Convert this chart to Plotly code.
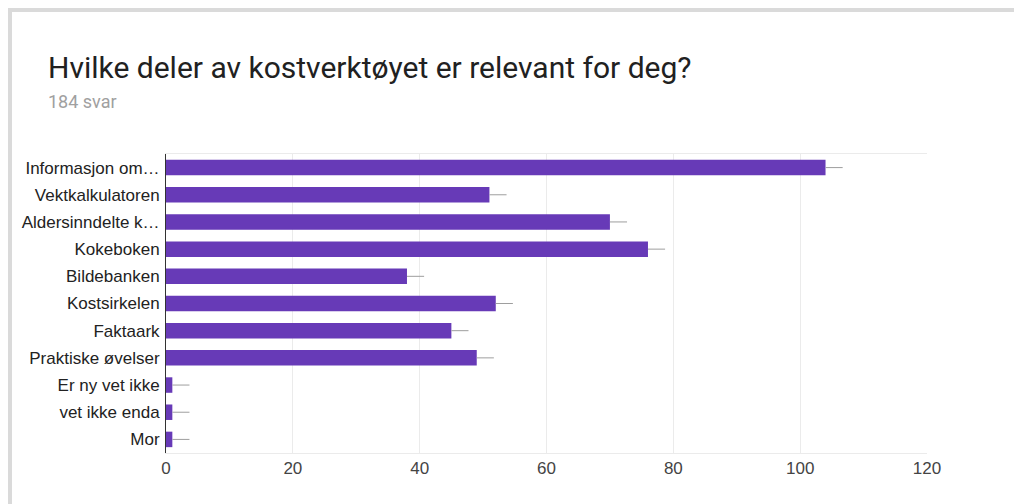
import plotly.graph_objects as go

categories = ["Informasjon om…", "Vektkalkulatoren", "Aldersinndelte k…", "Kokeboken",
              "Bildebanken", "Kostsirkelen", "Faktaark", "Praktiske øvelser",
              "Er ny vet ikke", "vet ikke enda", "Mor"]
values = [104, 51, 70, 76, 38, 52, 45, 49, 1, 1, 1]
err_plus = [2.7] * len(values)
err_minus = [0] * len(values)
x_ticks = [0, 20, 40, 60, 80, 100, 120]

title_text = "Hvilke deler av kostverktøyet er relevant for deg?"
subtitle_text = "184 svar"

OFF = 8  # page body margin
W, H = 1022 - OFF, 504 - OFF
L, R, T, B = 166 - OFF, 95, 154 - OFF, 51
pw, ph = W - L - R, H - T - B

def px(x):
    return (x - OFF - L) / pw

def py(y):
    return (H - B - (y - OFF)) / ph

fig = go.Figure(go.Bar(
    x=values, y=categories, orientation="h",
    marker=dict(color="#673ab7", line=dict(width=0)),
    error_x=dict(type="data", symmetric=False, array=err_plus, arrayminus=err_minus,
                 color="#9e9e9e", thickness=1, width=0),
    hoverinfo="x+y",
))

fig.update_layout(
    width=W, height=H,
    margin=dict(l=L, r=R, t=T, b=B),
    paper_bgcolor="white", plot_bgcolor="white",
    bargap=0.43,
    showlegend=False,
    font=dict(family="Liberation Sans, Arial, sans-serif", size=17, color="#222222"),
    xaxis=dict(range=[0, 120], tickvals=x_ticks, showgrid=True, gridcolor="#ebebeb",
               gridwidth=1, zeroline=False, showline=True, mirror=True, linecolor="#ebebeb",
               ticks="", tickfont=dict(size=17, color="#444444")),
    yaxis=dict(autorange="reversed", showgrid=False, zeroline=False, showline=True,
               linecolor="#333333", linewidth=1, ticks="", ticklabelstandoff=2,
               tickfont=dict(size=17, color="#222222")),
    shapes=[
        dict(type="rect", xref="paper", yref="paper", x0=px(6), x1=px(12), y0=py(520), y1=py(7),
             fillcolor="#dadada", line=dict(width=0), layer="below"),
        dict(type="rect", xref="paper", yref="paper", x0=px(6), x1=px(1040), y0=py(12), y1=py(7),
             fillcolor="#dadada", line=dict(width=0), layer="below"),
    ],
    annotations=[
        dict(text=title_text, xref="paper", yref="paper", x=px(46), y=py(68),
             xanchor="left", yanchor="middle", showarrow=False,
             font=dict(family="Roboto, Arial, sans-serif", size=30, color="#212121")),
        dict(text=subtitle_text, xref="paper", yref="paper", x=px(46), y=py(102),
             xanchor="left", yanchor="middle", showarrow=False,
             font=dict(family="Roboto, Arial, sans-serif", size=18, color="#a0a0a0")),
    ],
)

fig.write_html("out.html")
